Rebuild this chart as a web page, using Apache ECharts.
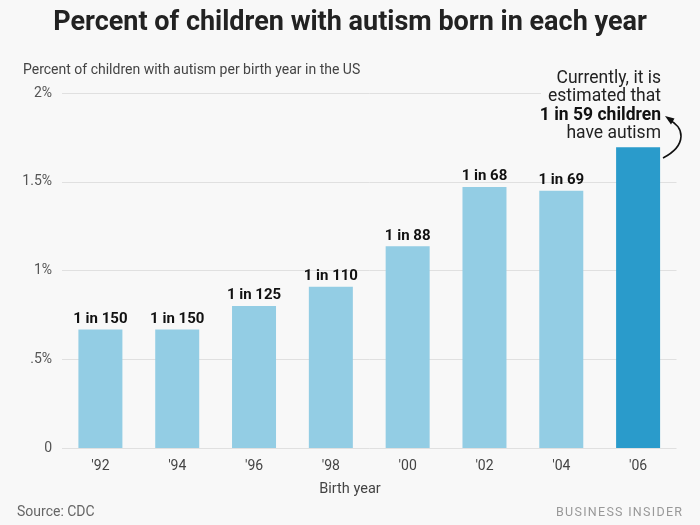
<!DOCTYPE html>
<html><head><meta charset="utf-8">
<script src="https://cdn.jsdelivr.net/npm/echarts@6/dist/echarts.min.js"></script>
<style>html,body{margin:0;padding:0;background:#f8f8f8}#c{width:700px;height:525px}</style>
</head><body><div id="c"></div>
<script>
const categories = ["'92","'94","'96","'98","'00","'02","'04","'06"];
const values = [0.667, 0.667, 0.8, 0.909, 1.136, 1.471, 1.449, 1.695];
const barLabels = ["1 in 150","1 in 150","1 in 125","1 in 110","1 in 88","1 in 68","1 in 69",""];
const yTicks = {0:"0",0.5:".5%",1:"1%",1.5:"1.5%",2:"2%"};

const chart = echarts.init(document.getElementById('c'));
const font = 'Roboto, "Open Sans", sans-serif';
const hs = '\u200A';
chart.setOption({
  backgroundColor: '#f8f8f8',
  textStyle: {fontFamily: font},
  title: [
    {text: 'Percent of children with autism born in each year', left: 'center', top: 10, padding: 0,
     textStyle: {fontSize: 27, fontWeight: 'bold', color: '#222', fontFamily: font}},
    {text: 'Percent of children with autism per birth year in the US', left: 23, top: 63, padding: 0,
     textStyle: {fontSize: 14, fontWeight: 'normal', color: '#444', fontFamily: font}},
    {text: 'Birth year', left: 'center', top: 482, padding: 0,
     textStyle: {fontSize: 14.5, fontWeight: 'normal', color: '#444', fontFamily: font}},
    {text: 'Source: CDC', left: 17, top: 505, padding: 0,
     textStyle: {fontSize: 14, fontWeight: 'normal', color: '#666', fontFamily: font}},
    {text: 'BUSINESS INSIDER'.split('').join(hs), right: 18, top: 506, padding: 0,
     textStyle: {fontSize: 12.5, fontWeight: 'normal', color: '#999', fontFamily: font}}
  ],
  grid: {left: 62, right: 23.5, top: 93, bottom: 77, containLabel: false},
  xAxis: {
    type: 'category', data: categories,
    axisLine: {show: false}, axisTick: {show: false},
    axisLabel: {fontSize: 14, color: '#444', margin: 11}
  },
  yAxis: {
    type: 'value', min: 0, max: 2, interval: 0.5,
    axisLine: {show: false}, axisTick: {show: false},
    splitLine: {lineStyle: {color: '#e0e0e0', width: 1}},
    axisLabel: {fontSize: 14, color: '#555', margin: 10, formatter: v => yTicks[v]}
  },
  series: [{
    type: 'bar', barWidth: 44,
    data: values.map((v, i) => ({value: v, itemStyle: {color: i === values.length - 1 ? '#2a9bcb' : '#93cde4'}})),
    label: {show: true, position: 'top', distance: 3, fontSize: 15, fontWeight: 'bold', color: '#111',
      formatter: p => barLabels[p.dataIndex]},
    animation: false
  }],
  animation: false,
  graphic: [
    {type: 'rect', shape: {x: 541, y: 89, width: 150, height: 8}, style: {fill: '#f8f8f8'}, z: 10},
    {type: 'text', x: 661, y: 69, z: 20, style: {
      text: 'Currently, it is\nestimated that\n{b|1 in 59 children}\nhave autism',
      align: 'right', fontSize: 17.5, lineHeight: 18.5, fill: '#222', fontFamily: font,
      rich: {b: {fontWeight: 'bold', fontSize: 17.5, fill: '#111', fontFamily: font, lineHeight: 18.5}}
    }},
    {type: 'bezierCurve', z: 20, shape: {x1: 663, y1: 158, x2: 669, y2: 120, cpx1: 688, cpy1: 145, cpx2: 684, cpy2: 126},
     style: {stroke: '#111', lineWidth: 1.6, fill: null}},
    {type: 'polygon', z: 20, shape: {points: [[665, 116], [671, 124.5], [674.5, 118.5]]}, style: {fill: '#111'}}
  ]
});
</script></body></html>
